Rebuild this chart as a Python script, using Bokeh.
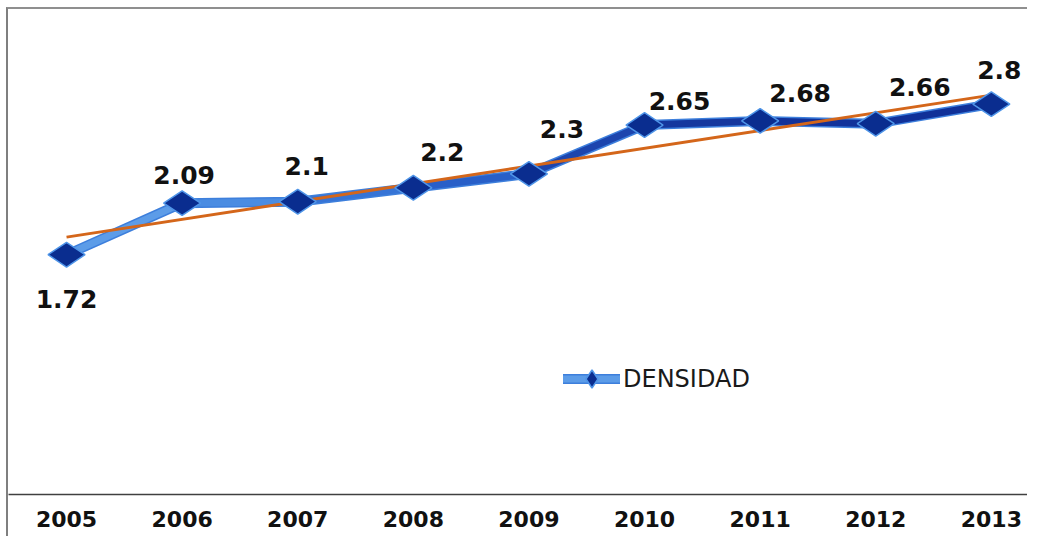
import numpy as np
from bokeh.plotting import figure
from bokeh.layouts import row, column
from bokeh.models import ColumnDataSource, FixedTicker, Legend, LegendItem, Range1d, Spacer
from bokeh.core.properties import value
from bokeh.embed import file_html
from bokeh.resources import INLINE

# ---- data ----
years = ["2005", "2006", "2007", "2008", "2009", "2010", "2011", "2012", "2013"]
densidad = [1.72, 2.09, 2.10, 2.20, 2.30, 2.65, 2.68, 2.66, 2.80]
labels = ["1.72", "2.09", "2.1", "2.2", "2.3", "2.65", "2.68", "2.66", "2.8"]
series_name = "DENSIDAD"

# ---- style (label offsets in screen px, segment colours) ----
label_dx = [0, 2, 9, 29, 33, 35, 40, 44, 8]
label_dy = [44, -28, -36, -36, -45, -24, -28, -37, -34]
seg_colors = ["#5c9ce8", "#4a8ce2", "#3674d6", "#285fc8", "#1c45ae",
              "#15379e", "#12329a", "#103098"]

idx = list(range(len(years)))

p = figure(width=1021, height=529, output_backend="svg", toolbar_location=None,
           x_range=Range1d(-0.502, 8.330), y_range=Range1d(0, 3.479),
           min_border_left=0, min_border_right=0, min_border_top=0, min_border_bottom=44,
           background_fill_color="white", border_fill_color="white",
           outline_line_color=None)
p.styles = {"border-left": "2px solid #7f7f7f", "border-top": "2px solid #8f8f8f"}

p.grid.visible = False
p.yaxis.visible = False

xa = p.xaxis[0]
xa.ticker = FixedTicker(ticks=idx)
xa.major_label_overrides = {i: y for i, y in zip(idx, years)}
xa.major_tick_line_color = None
xa.minor_tick_line_color = None
xa.major_tick_in = 0
xa.major_tick_out = 0
xa.major_label_standoff = 16
xa.axis_line_color = "#404040"
xa.axis_line_width = 1.5
xa.major_label_text_font = "DejaVu Sans"
xa.major_label_text_font_style = "bold"
xa.major_label_text_font_size = "22px"
xa.major_label_text_color = "#111111"

# main line: outline then gradient segments
border = p.line(idx, densidad, line_width=10, line_color="#3d7fdc", line_join="round",
                line_cap="round")
seg_src = ColumnDataSource(dict(x0=idx[:-1], y0=densidad[:-1], x1=idx[1:], y1=densidad[1:],
                                c=seg_colors))
segs = p.segment("x0", "y0", "x1", "y1", source=seg_src, line_color="c", line_width=7,
                 line_cap="round")

# trend line (least squares fit, as in the original chart)
coef = np.polyfit(idx, densidad, 1)
trend_y = [float(coef[0] * i + coef[1]) for i in (idx[0], idx[-1])]
p.line([idx[0], idx[-1]], trend_y, line_color="#d4661a", line_width=3)

pts = p.scatter(idx, densidad, marker="diamond", angle=np.pi / 2, size=37,
                fill_color="#0a2d8f", line_color="#4f95e8", line_width=1.5)

lab_src = ColumnDataSource(dict(x=idx, y=densidad, t=labels, dx=label_dx, dy=label_dy))
p.text("x", "y", text="t", source=lab_src, x_offset="dx", y_offset="dy",
       text_align="center", text_baseline="middle",
       text_font=value("DejaVu Sans"), text_font_style="bold",
       text_font_size="25px", text_color="#111111")

legend = Legend(items=[LegendItem(label=series_name, renderers=[border, segs, pts])],
                location=(555, 93), orientation="vertical",
                glyph_width=57, glyph_height=45, label_height=45,
                padding=0, margin=0, spacing=0, label_standoff=3,
                border_line_color=None, background_fill_alpha=0,
                label_text_font="DejaVu Sans", label_text_font_size="24px",
                label_text_color="#1a1a1a")
p.add_layout(legend, "center")

layout = column(Spacer(width=1029, height=7),
                row(Spacer(width=6, height=531), p))

open("out.html", "w").write(file_html(layout, INLINE))
